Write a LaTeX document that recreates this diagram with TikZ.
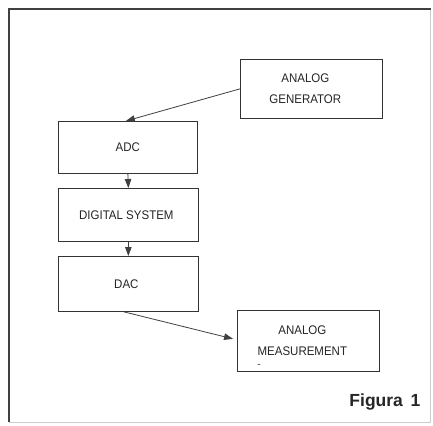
\documentclass[tikz,border=0pt]{standalone}
\usepackage{fontspec}
\setmainfont{Liberation Sans}
\usetikzlibrary{arrows.meta}
\newcommand{\padR}{\hspace*{12pt}}
\begin{document}
\begin{tikzpicture}[x=1pt,y=-1pt,
  blk/.style={draw=black!80, line width=0.7pt, inner sep=0pt, anchor=north west, align=center,
    font=\fontsize{12.5}{21}\selectfont\addfontfeatures{FakeStretch=0.92}, text=black!85},
  conn/.style={draw=black!75, line width=0.8pt, -{Triangle[length=9pt,width=6.5pt]}}]
\useasboundingbox (0,0) rectangle (433,425);
\fill[white] (0,0) rectangle (433,425);
% frame
\draw[black!20, line width=1pt] (430,9) -- (430,422) -- (9,422);
\draw[black!75, line width=2pt] (9,422) -- (9,9) -- (431,9);
% boxes
\node[blk, minimum width=142pt, minimum height=59pt] (gen) at (240,59) {ANALOG\padR\\GENERATOR\padR};
\node[blk, minimum width=139pt, minimum height=52pt] (adc) at (58,121) {ADC};
\node[blk, minimum width=140pt, minimum height=53pt] (ds) at (58,188) {DIGITAL SYSTEM\hspace*{4pt}};
\node[blk, minimum width=140pt, minimum height=55pt] (dac) at (58,256) {DAC\hspace*{4pt}};
\node[blk, minimum width=142pt, minimum height=61pt] (meas) at (237,310) {ANALOG\padR\\MEASUREMENT\padR};
\node[font=\fontsize{10}{10}\selectfont, text=black!80, inner sep=0pt] (dash) at (259,366) {-};
% connectors
\draw[conn] (gen.west) -- ([xshift=-2pt]adc.north);
\draw[conn] (adc.south) -- (ds.north);
\draw[conn] (ds.south) -- (dac.north);
\draw[conn] ([xshift=-5pt]dac.south) -- ([xshift=-4pt,yshift=2pt]meas.west);
% caption
\node[font=\fontsize{17.5}{17.5}\selectfont\bfseries, text=black!85, anchor=south east] (fig) at (424,414) {Figura\ \,1};
\end{tikzpicture}
\end{document}
